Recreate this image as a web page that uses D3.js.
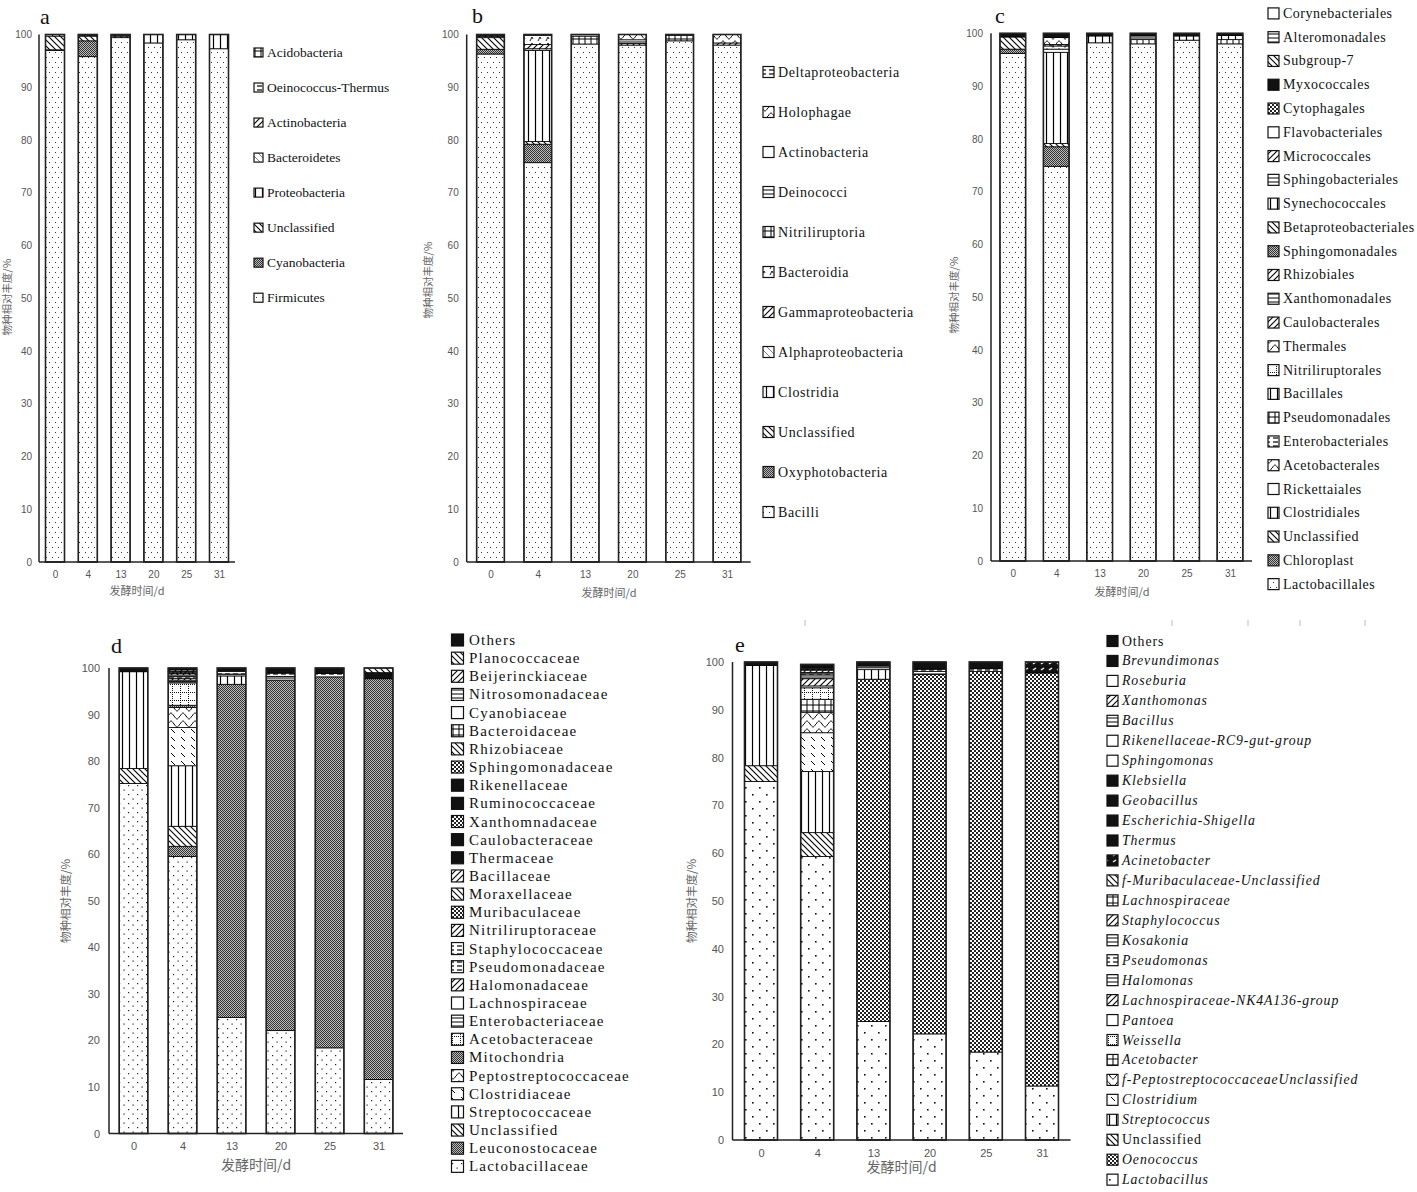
<!DOCTYPE html>
<html><head><meta charset="utf-8">
<script src="https://cdn.jsdelivr.net/npm/d3@7"></script>
<style>body{margin:0;background:#fff}svg{display:block}</style>
</head><body>
<svg id="chart" width="1417" height="1192"></svg>
<script>
// ---------------- DATA ----------------
const days = ["0","4","13","20","25","31"];
const yTicks = [0,10,20,30,40,50,60,70,80,90,100];

// a: phylum (bottom -> top)
const phylumNames = ["Firmicutes","Cyanobacteria","Unclassified","Proteobacteria","Bacteroidetes","Actinobacteria","Oeinococcus-Thermus","Acidobacteria"];
const phylumValues = [
  [97.0,95.8,99.4,98.4,99.0,97.3],
  [0.1,3.0,0,0,0,0],
  [2.6,0.9,0.3,0,0,0],
  [0.3,0.1,0.2,1.6,1.0,2.7],
  [0,0.2,0.1,0,0,0],
  [0,0,0,0,0,0],
  [0,0,0,0,0,0],
  [0,0,0,0,0,0]
];

// b: class
const classNames = ["Bacilli","Oxyphotobacteria","Unclassified","Clostridia","Alphaproteobacteria","Gammaproteobacteria","Bacteroidia","Nitriliruptoria","Deinococci","Actinobacteria","Holophagae","Deltaproteobacteria"];
const classValues = [
  [96.3,75.7,98.2,98.0,98.8,98.0],
  [0.9,3.5,0,0,0,0],
  [2.2,0.5,0,0,0,0],
  [0,17.3,0,0,0,0],
  [0.2,0.3,0,0,0,0],
  [0.2,0.8,0,0.3,0,0.4],
  [0,1.7,0,0,0,0],
  [0,0,1.5,0,1.0,0],
  [0,0,0,0.7,0,0],
  [0,0.2,0,0,0,0],
  [0.2,0,0,1.0,0,1.6],
  [0,0,0.3,0,0.2,0]
];

// c: order
const orderNames = ["Lactobacillales","Chloroplast","Unclassified","Clostridiales","Rickettaiales","Acetobacterales","Enterobacteriales","Pseudomonadales","Bacillales","Nitriliruptorales","Thermales","Caulobacterales","Xanthomonadales","Rhizobiales","Sphingomonadales","Betaproteobacteriales","Synechococcales","Sphingobacteriales","Micrococcales","Flavobacteriales","Cytophagales","Myxococcales","Subgroup-7","Alteromonadales","Corynebacteriales"];
const orderValues = [
  [96.2,74.8,98.2,98.0,98.7,98.0],
  [0.8,3.7,0,0,0,0],
  [2.3,0.6,0,0,0,0],
  [0,17.3,0,0,0,0],
  [0,0.6,0,0,0,0],
  [0,0.6,0,0,0,0],
  [0,0.3,0,0,0,0],
  [0,0,0,0.8,0,0.8],
  [0,0,1.3,0,0.8,0.8],
  [0,0,0,0,0,0],
  [0,1.3,0,0,0,0],
  [0,0,0,0,0,0],
  [0,0,0,0.7,0,0],
  [0,0,0,0,0,0],
  [0,0,0,0,0,0],
  [0,0,0,0,0,0],
  [0,0,0,0,0,0],
  [0,0,0,0,0,0],
  [0,0,0,0,0,0],
  [0,0,0,0,0,0],
  [0,0,0,0,0,0],
  [0.7,0.8,0.5,0.5,0.5,0.4],
  [0,0,0,0,0,0],
  [0,0,0,0,0,0],
  [0,0,0,0,0,0]
];

// d: family
const familyNames = ["Lactobacillaceae","Leuconostocaceae","Unclassified","Streptococcaceae","Clostridiaceae","Peptostreptococcaceae","Mitochondria","Acetobacteraceae","Enterobacteriaceae","Lachnospiraceae","Halomonadaceae","Pseudomonadaceae","Staphylococcaceae","Nitriliruptoraceae","Muribaculaceae","Moraxellaceae","Bacillaceae","Thermaceae","Caulobacteraceae","Xanthomnadaceae","Ruminococcaceae","Rikenellaceae","Sphingomonadaceae","Rhizobiaceae","Bacteroidaceae","Cyanobiaceae","Nitrosomonadaceae","Beijerinckiaceae","Planococcaceae","Others"];
const familyValues = [
  [75.2,59.5,24.9,22.1,18.4,11.6],
  [0,2.2,71.6,75.3,79.7,86.1],
  [3.2,4.3,0,0,0,0],
  [20.8,13.0,1.8,0,0,0],
  [0,8.2,0,0,0,0],
  [0,4.3,0,0,0,0],
  [0,0.5,0,0,0,0],
  [0,4.8,0,0,0,0],
  [0,0.3,0.4,0.8,0,0],
  [0,0.3,0,0,0,0],
  [0,0.4,0,0,0,0],
  [0,0.4,0,0,0,0],
  [0,0.3,0.6,0.7,0.7,0],
  [0,0.3,0,0,0,0],
  [0,0.3,0,0,0,0],
  [0,0.2,0,0,0,0],
  [0,0.3,0,0,0,0],
  [0,0,0,0,0,1.3],
  [0,0,0,0,0,0],
  [0,0,0,0,0,0],
  [0,0,0,0,0,0],
  [0,0,0,0,0,0],
  [0,0,0,0,0,0],
  [0,0,0,0,0,0],
  [0,0,0,0,0,0],
  [0,0,0,0,0,0],
  [0,0,0,0,0,0],
  [0,0,0,0,0,0],
  [0,0,0,0,0,1.0],
  [0.8,0.4,0.7,1.1,1.2,0]
];

// e: genus
const genusNames = ["Lactobacillus","Oenococcus","Unclassified","Streptococcus","Clostridium","f-PeptostreptococcaceaeUnclassified","Acetobacter","Weissella","Pantoea","Lachnospiraceae-NK4A136-group","Halomonas","Pseudomonas","Kosakonia","Staphylococcus","Lachnospiraceae","f-Muribaculaceae-Unclassified","Acinetobacter","Thermus","Escherichia-Shigella","Geobacillus","Klebsiella","Sphingomonas","Rikenellaceae-RC9-gut-group","Bacillus","Xanthomonas","Roseburia","Brevundimonas","Others"];
const genusValues = [
  [75.0,59.3,24.8,22.2,18.4,11.3],
  [0,0,71.6,75.2,79.6,86.4],
  [3.3,5.0,0,0,0,0],
  [21.0,12.8,2.0,0,0,0],
  [0,8.1,0,0,0,0],
  [0,4.3,0,0,0,0],
  [0,2.7,0,0,0,0],
  [0,2.4,0,0,0,0],
  [0,0.4,0.4,0,0,0],
  [0,1.5,0,0,0,0],
  [0,0.6,0,0.6,0,0],
  [0,0.4,0,0.5,0.6,0],
  [0,0.3,0.4,0,0,0],
  [0,0.5,0,0,0,0],
  [0,0.2,0,0,0,0],
  [0,0.2,0,0,0,0],
  [0,0,0,0,0,2.3],
  [0,0,0,0,0,0],
  [0,0,0,0,0,0],
  [0,0,0,0,0,0],
  [0,0,0,0,0,0],
  [0,0,0,0,0,0],
  [0,0,0,0,0,0],
  [0,0.2,0,0,0,0],
  [0,0,0,0,0,0],
  [0,0,0,0,0,0],
  [0,0,0,0,0,0],
  [0.7,0.6,0.8,1.5,1.4,0]
];
const uprightGenus = ["Others","Unclassified"];

// ---------------- STYLE / PATTERNS ----------------
const svg = d3.select("#chart");
const defs = svg.append("defs");
function pat(id, w, h, draw, bg){
  const p = defs.append("pattern").attr("id","p-"+id)
    .attr("patternUnits","userSpaceOnUse").attr("width",w).attr("height",h);
  p.append("rect").attr("width",w).attr("height",h).attr("fill",bg||"#fff");
  if(draw) draw(p);
}
const px = (p,x,y,w,h,c)=>p.append("rect").attr("x",x).attr("y",y).attr("width",w).attr("height",h).attr("fill",c||"#222");
const ln = (p,d,w,c)=>p.append("path").attr("d",d).attr("stroke",c||"#000").attr("stroke-width",w||1).attr("fill","none");

pat("dots",6,10,p=>{px(p,1,2,1,1,"#333");px(p,4,7,1,1,"#333");});
pat("dotsD",9,9,p=>{px(p,2,2,1.2,1.2);px(p,6.5,6.5,1.2,1.2);});
pat("dotsE",14,14,p=>{px(p,3,3,1.6,1.6,"#111");px(p,10,10,1.6,1.6,"#111");});
pat("gray",2,2,p=>{px(p,0,0,1,1,"#333");px(p,1,1,1,1,"#333");},"#bbb");
pat("checkE",4,4,p=>{px(p,0,0,2,2,"#222");px(p,2,2,2,2,"#222");});
pat("vl",7,7,p=>ln(p,"M3.5,0V7",1.2));
pat("bd",6,6,p=>ln(p,"M0,0L6,6M-1,5L1,7M5,-1L7,1",1.1));
pat("bdl",7,7,p=>ln(p,"M0,0L7,7M-1,6L1,8M6,-1L8,1",0.7,"#444"));
pat("fd",6,6,p=>ln(p,"M0,6L6,0M-1,1L1,-1M5,7L7,5",1.1));
pat("hl",6,4,p=>ln(p,"M0,2H6",1));
pat("grid",6,6,p=>ln(p,"M3,0V6M0,3H6",1));
pat("wave",12,8,p=>ln(p,"M0,4C3,0 3,0 6,4S9,8 12,4",1));
pat("dashbd",10,8,p=>ln(p,"M1,1L5,5",1));
pat("dotgrid",8,8,p=>{for(let i=0;i<8;i+=2){px(p,i,4,1,1,"#111");px(p,4,i,1,1,"#111");}});
pat("black",4,4,null,"#111");
pat("white",4,4,null,"#fff");
pat("hdash",8,4,p=>ln(p,"M1,2H6",1.2));
pat("marks",8,6,p=>ln(p,"M2,5L4,1M4,1L5,3",0.9));
pat("blackdash",8,6,p=>ln(p,"M1,4L4,2",1.3,"#fff"),"#111");

const aPat = ["dots","gray","bd","vl","bdl","fd","hdash","grid"];
const bPat = ["dots","gray","bd","vl","bdl","fd","marks","grid","hl","white","wave","hdash"];
const cPat = ["dots","gray","bd","vl","white","wave","hdash","grid","vl","dotgrid","wave","fd","hl","fd","gray","bd","vl","hl","fd","white","checkE","black","bd","hl","white"];
const dPat = ["dotsD","gray","bd","vl","dashbd","wave","gray","dotgrid","hl","white","fd","hdash","hdash","fd","checkE","bd","fd","black","black","checkE","black","black","checkE","bd","grid","white","hl","fd","bd","black"];
const ePat = ["dotsE","checkE","bd","vl","dashbd","wave","grid","dotgrid","white","fd","hl","hdash","hl","fd","grid","bd","blackdash","black","black","black","black","white","white","hl","fd","white","black","black"];

const AX_FONT = "Liberation Sans, Arial, sans-serif";
const CJK = "Noto Sans CJK SC, sans-serif";
const SERIF = "Liberation Serif, Times New Roman, serif";

function drawPanel(cfg, names, values, pats){
  const g = svg.append("g");
  const x = d3.scalePoint().domain(days).range([cfg.c0, cfg.c1]);
  const y = d3.scaleLinear().domain([0,100]).range([cfg.yBot, cfg.yTop]);
  const rows = days.map((d,j)=>{const o={day:d}; names.forEach((n,i)=>o[n]=values[i][j]); return o;});
  const layers = d3.stack().keys(names)(rows);
  layers.forEach((layer,i)=>{
    g.append("g").selectAll("rect").data(layer.filter(d=>d[1]-d[0]>0)).join("rect")
      .attr("x",d=>x(d.data.day)-cfg.bw/2).attr("width",cfg.bw)
      .attr("y",d=>y(d[1])).attr("height",d=>y(d[0])-y(d[1]))
      .attr("fill",`url(#p-${pats[i]})`).attr("stroke","#000").attr("stroke-width",0.8);
  });
  // bar outline
  g.append("g").selectAll("rect").data(rows).join("rect")
    .attr("x",d=>x(d.day)-cfg.bw/2).attr("width",cfg.bw)
    .attr("y",d=>y(d3.sum(names,n=>d[n]))).attr("height",d=>y(0)-y(d3.sum(names,n=>d[n])))
    .attr("fill","none").attr("stroke","#222").attr("stroke-width",1.6);
  // axes
  const yg = g.append("g").attr("transform",`translate(${cfg.ax},0)`)
    .call(d3.axisLeft(y).tickValues(yTicks).tickSize(0).tickPadding(cfg.ytp));
  yg.select(".domain").remove();
  yg.selectAll("text").attr("font-family",AX_FONT).attr("font-size",cfg.tfs).attr("fill","#555");
  const xg = g.append("g").attr("transform",`translate(0,${cfg.yBot})`)
    .call(d3.axisBottom(x).tickSize(0).tickPadding(9));
  xg.select(".domain").remove();
  xg.selectAll("text").attr("font-family",AX_FONT).attr("font-size",cfg.tfs).attr("fill","#555");
  g.append("line").attr("x1",cfg.ax).attr("x2",cfg.ax).attr("y1",y(0)).attr("y2",y(100))
    .attr("stroke","#222").attr("stroke-width",1.5);
  g.append("line").attr("x1",cfg.ax).attr("x2",cfg.xEnd).attr("y1",y(0)).attr("y2",y(0))
    .attr("stroke","#222").attr("stroke-width",1.5);
  // labels
  g.append("text").attr("transform",`translate(${cfg.ylx},${cfg.yly}) rotate(-90)`)
    .attr("text-anchor","middle").attr("dominant-baseline","central")
    .attr("font-family",CJK).attr("font-size",cfg.ylfs).attr("fill","#666").text("物种相对丰度/%");
  g.append("text").attr("x",cfg.xlx).attr("y",cfg.xly).attr("text-anchor","middle")
    .attr("dominant-baseline","central").attr("font-family",CJK).attr("font-size",cfg.xlfs)
    .attr("fill","#666").text("发酵时间/d");
  g.append("text").attr("x",cfg.lx).attr("y",cfg.ly).attr("dominant-baseline","central")
    .attr("font-family",SERIF).attr("font-size",22).attr("fill","#111").text(cfg.letter);
  // legend (top = last series)
  const L = cfg.leg;
  const items = names.map((n,i)=>({n,p:pats[i]})).reverse();
  const lg = g.append("g");
  items.forEach((it,k)=>{
    const cy = L.y0 + k*L.dy;
    lg.append("rect").attr("x",L.ix).attr("y",cy-L.iw/2).attr("width",L.iw).attr("height",L.iw)
      .attr("fill",`url(#p-${it.p})`).attr("stroke","#111").attr("stroke-width",1.2);
    lg.append("text").attr("x",L.tx).attr("y",cy).attr("dominant-baseline","central")
      .attr("font-family",SERIF).attr("font-size",L.fs).attr("letter-spacing",L.ls)
      .attr("font-style",(L.italic && !uprightGenus.includes(it.n))?"italic":"normal")
      .attr("fill","#111").text(it.n);
  });
}

drawPanel({ax:39,xEnd:235,yTop:34.5,yBot:562,c0:55,c1:219,bw:19,ytp:7,tfs:10,
  ylx:6,yly:297,ylfs:10.5,xlx:137,xly:590,xlfs:11,lx:40,ly:16,letter:"a",
  leg:{ix:254,iw:9,tx:267,y0:52.5,dy:35.03,fs:13.5,ls:0}}, phylumNames, phylumValues, aPat);

drawPanel({ax:466.7,xEnd:750.7,yTop:34.5,yBot:562,c0:490.5,c1:727,bw:27.7,ytp:8,tfs:10,
  ylx:427,yly:280,ylfs:10.5,xlx:609,xly:592,xlfs:11,lx:472,ly:15,letter:"b",
  leg:{ix:763,iw:11,tx:778,y0:72,dy:40,fs:14,ls:0.6}}, classNames, classValues, bPat);

drawPanel({ax:991,xEnd:1252,yTop:33.3,yBot:561,c0:1012.8,c1:1230,bw:25.7,ytp:8,tfs:10,
  ylx:953,yly:295,ylfs:10.5,xlx:1122,xly:591,xlfs:11,lx:995,ly:15,letter:"c",
  leg:{ix:1268,iw:11,tx:1283,y0:13.4,dy:23.78,fs:14,ls:0.5}}, orderNames, orderValues, cPat);

drawPanel({ax:109,xEnd:403,yTop:668,yBot:1133.5,c0:133.5,c1:378.6,bw:28.6,ytp:9,tfs:11,
  ylx:65,yly:901,ylfs:11.5,xlx:256,xly:1164,xlfs:14,lx:111,ly:645,letter:"d",
  leg:{ix:451.5,iw:12,tx:469,y0:640,dy:18.15,fs:15,ls:1.2}}, familyNames, familyValues, dPat);

drawPanel({ax:732.5,xEnd:1070.6,yTop:662,yBot:1140,c0:761,c1:1042,bw:33,ytp:8.5,tfs:11,
  ylx:691,yly:901,ylfs:11.5,xlx:901.5,xly:1166,xlfs:14,lx:735,ly:644,letter:"e",
  leg:{ix:1107,iw:11,tx:1122,y0:641,dy:19.95,fs:13.8,ls:0.9,italic:true}}, genusNames, genusValues, ePat);

// faint marks at the top of the lower row (as in the reference scan)
svg.append("g").selectAll("line").data([805,1172,1248,1300,1365]).join("line")
  .attr("x1",d=>d).attr("x2",d=>d).attr("y1",620).attr("y2",626)
  .attr("stroke","#bbb").attr("stroke-width",1);
</script>
</body></html>
